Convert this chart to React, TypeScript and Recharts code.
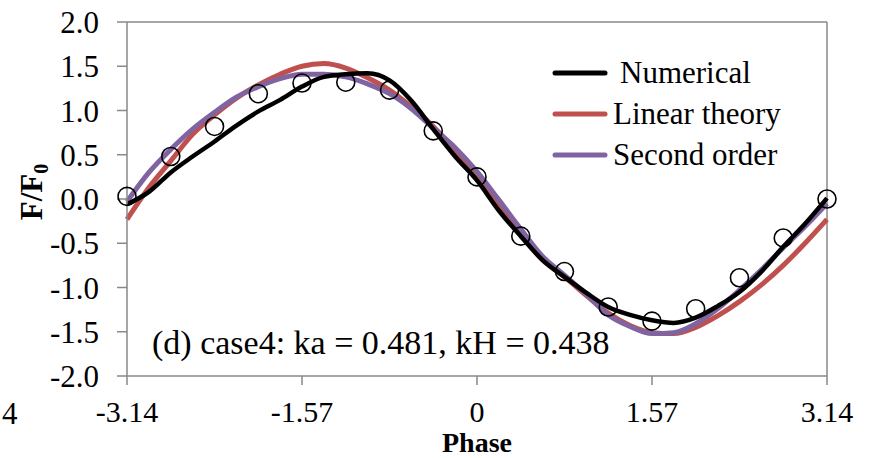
import {
    ComposedChart,
    Line,
    XAxis,
    YAxis,
    Legend,
    ReferenceLine,
    Label,
} from 'recharts';

const FONT = '"Liberation Serif", "Times New Roman", serif';
const AXIS = '#898989';

// phase, -pi .. pi in steps of pi/16
const PHASE = [
    -3.142, -2.945, -2.749, -2.553, -2.356, -2.16, -1.963, -1.767, -1.571,
    -1.374, -1.178, -0.982, -0.785, -0.589, -0.393, -0.196, 0, 0.196, 0.393,
    0.589, 0.785, 0.982, 1.178, 1.374, 1.571, 1.767, 1.963, 2.16, 2.356, 2.553,
    2.749, 2.945, 3.142,
];

const NUMERICAL = [
    -0.06, 0.08, 0.3, 0.48, 0.65, 0.83, 0.99, 1.12, 1.27, 1.38, 1.41, 1.42,
    1.34, 1.11, 0.79, 0.48, 0.21, -0.13, -0.42, -0.69, -0.88, -1.06, -1.22,
    -1.31, -1.37, -1.4, -1.34, -1.21, -1.05, -0.82, -0.54, -0.28, 0.01,
];

const LINEAR = [
    -0.23, 0.13, 0.43, 0.73, 0.95, 1.14, 1.29, 1.41, 1.5, 1.53, 1.48, 1.37,
    1.23, 1.04, 0.82, 0.55, 0.24, -0.07, -0.4, -0.69, -0.88, -1.09, -1.29,
    -1.43, -1.51, -1.52, -1.45, -1.32, -1.16, -0.97, -0.75, -0.5, -0.23,
];

const SECOND = [
    -0.03, 0.3, 0.56, 0.79, 0.98, 1.15, 1.27, 1.36, 1.41, 1.41, 1.38, 1.3,
    1.19, 1.02, 0.8, 0.58, 0.31, -0.01, -0.34, -0.65, -0.86, -1.08, -1.31,
    -1.44, -1.52, -1.51, -1.41, -1.24, -1.03, -0.8, -0.55, -0.31, -0.05,
];

// measured points, every pi/8
const MEASURED = [
    0.03, 0.48, 0.82, 1.19, 1.31, 1.32, 1.23, 0.77, 0.25, -0.42, -0.82, -1.22,
    -1.38, -1.24, -0.89, -0.44, 0.0,
];

const X_TICKS = [-3.142, -1.571, 0, 1.571, 3.142];
const Y_TICKS = [-2, -1.5, -1, -0.5, 0, 0.5, 1, 1.5, 2];

const SERIES = [
    { key: 'numerical', name: 'Numerical', color: '#000000', width: 4.5 },
    { key: 'linear', name: 'Linear theory', color: '#C0504D', width: 5 },
    { key: 'second', name: 'Second order', color: '#8064A2', width: 5 },
];

const data = PHASE.map((phase, i) => ({
    phase,
    numerical: NUMERICAL[i],
    linear: LINEAR[i],
    second: SECOND[i],
    measured: i % 2 === 0 ? MEASURED[i / 2] : null,
}));

const renderLegend = () => (
    <div style={{ position: 'relative', width: 260, height: 126, fontFamily: FONT, fontSize: 31, color: '#000' }}>
        {SERIES.map((s, i) => (
            <div
                key={s.key}
                style={{
                    position: 'absolute',
                    left: 0,
                    top: i * 41,
                    height: 41,
                    display: 'flex',
                    alignItems: 'center',
                }}
            >
                <svg width={56} height={8}>
                    <line x1={3} y1={4} x2={53} y2={4} stroke={s.color} strokeWidth={5} strokeLinecap="round" />
                </svg>
                <span style={{ marginLeft: s.key === 'numerical' ? 12 : 5, whiteSpace: 'nowrap' }}>{s.name}</span>
            </div>
        ))}
    </div>
);

const renderMarker = (props: any) => {
    const { cx, cy, value, index } = props;
    if (value == null || cx == null || cy == null) return <g key={`m-${index}`} />;
    return <circle key={`m-${index}`} cx={cx} cy={cy} r={9} fill="none" stroke="#000" strokeWidth={1.6} />;
};

const renderYTitle = () => (
    <text
        x={0}
        y={0}
        transform="translate(42, 192) rotate(-90)"
        textAnchor="middle"
        fontFamily={FONT}
        fontSize={31}
        fontWeight="bold"
        fill="#000"
    >
        F/F<tspan fontSize={20} dy={6}>0</tspan>
    </text>
);

export default function App() {
    return (
        <div style={{ position: 'absolute', left: 0, top: 0, width: 870, height: 458, background: '#fff' }}>
            <ComposedChart
                width={870}
                height={458}
                data={data}
                margin={{ top: 22, right: 43, bottom: 0, left: 0 }}
            >
                <XAxis
                    dataKey="phase"
                    type="number"
                    domain={[-3.142, 3.142]}
                    ticks={X_TICKS}
                    tickFormatter={(v: number) => (v === 0 ? '0' : v.toFixed(2))}
                    height={82}
                    tickSize={9}
                    tickMargin={16}
                    axisLine={{ stroke: AXIS, strokeWidth: 1.5 }}
                    tickLine={{ stroke: AXIS, strokeWidth: 1.5 }}
                    tick={{ fill: '#000', fontSize: 30, fontFamily: FONT }}
                >
                    <Label
                        value="Phase"
                        position="insideBottom"
                        offset={6}
                        fill="#000"
                        fontSize={28}
                        fontWeight="bold"
                        fontFamily={FONT}
                    />
                </XAxis>
                <YAxis
                    type="number"
                    domain={[-2, 2]}
                    ticks={Y_TICKS}
                    tickFormatter={(v: number) => v.toFixed(1)}
                    width={127}
                    tickSize={10}
                    tickMargin={18}
                    axisLine={{ stroke: AXIS, strokeWidth: 1.5 }}
                    tickLine={{ stroke: AXIS, strokeWidth: 1.5 }}
                    tick={{ fill: '#000', fontSize: 31, fontFamily: FONT }}
                >
                    <Label content={renderYTitle} />
                </YAxis>
                <ReferenceLine y={2} stroke={AXIS} strokeWidth={1.5} />
                <ReferenceLine x={3.142} stroke={AXIS} strokeWidth={1.5} />
                <Legend
                    layout="vertical"
                    align="center"
                    verticalAlign="middle"
                    content={renderLegend}
                    wrapperStyle={{ left: 552, top: 52, width: 260 }}
                />
                <Line
                    type="monotone"
                    dataKey="linear"
                    name="Linear theory"
                    stroke="#C0504D"
                    strokeWidth={5}
                    dot={false}
                    isAnimationActive={false}
                />
                <Line
                    type="monotone"
                    dataKey="second"
                    name="Second order"
                    stroke="#8064A2"
                    strokeWidth={5}
                    dot={false}
                    isAnimationActive={false}
                />
                <Line
                    type="monotone"
                    dataKey="numerical"
                    name="Numerical"
                    stroke="#000000"
                    strokeWidth={4.5}
                    dot={false}
                    isAnimationActive={false}
                />
                <Line
                    type="monotone"
                    dataKey="measured"
                    name="Measured"
                    stroke="none"
                    legendType="none"
                    dot={renderMarker}
                    activeDot={false}
                    isAnimationActive={false}
                />
            </ComposedChart>
            <div
                style={{
                    position: 'absolute',
                    left: 152,
                    top: 323,
                    fontFamily: FONT,
                    fontSize: 34,
                    lineHeight: '40px',
                    whiteSpace: 'nowrap',
                    color: '#000',
                }}
            >
                (d) case4: ka = 0.481, kH = 0.438
            </div>
            <div
                style={{
                    position: 'absolute',
                    left: 2,
                    top: 396,
                    fontFamily: FONT,
                    fontSize: 31,
                    lineHeight: '36px',
                    color: '#000',
                }}
            >
                4
            </div>
        </div>
    );
}
